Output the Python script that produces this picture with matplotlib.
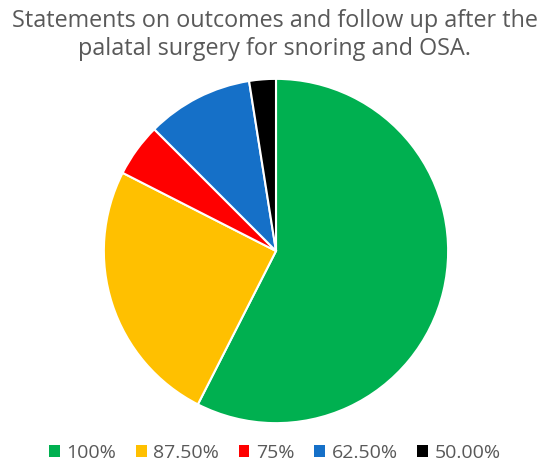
import matplotlib.pyplot as plt
from matplotlib.patches import Patch

# Statements per agreement level
labels = ['100%', '87.50%', '75%', '62.50%', '50.00%']
counts = [23, 10, 2, 4, 1]
colors = ['#00B050', '#FFC000', '#FF0000', '#1570C8', '#000000']

plt.rcParams['font.family'] = ['Open Sans', 'DejaVu Sans']

fig = plt.figure(figsize=(5.5, 4.68), dpi=100)
ax = fig.add_axes([(276 - 173) / 550, 1 - (251 + 173) / 468, 346 / 550, 346 / 468])
ax.pie(counts, colors=colors, startangle=90, counterclock=False,
       wedgeprops=dict(edgecolor='white', linewidth=1.5))
ax.set_xlim(-1.005, 1.005)
ax.set_ylim(-1.005, 1.005)
ax.set_aspect('equal')

fig.text(0.5, 1 - 35 / 468, 'Statements on outcomes and follow up after the\npalatal surgery for snoring and OSA.',
         ha='center', va='center', fontsize=16.8, color='#595959', linespacing=1.2)

handles = [Patch(facecolor=c, edgecolor='none') for c in colors]
fig.legend(handles, labels, loc='center', bbox_to_anchor=(0.5, 1 - 453 / 468), ncol=5,
           frameon=False, fontsize=14, labelcolor='#595959', handlelength=0.55, handleheight=0.55,
           handletextpad=0.35, columnspacing=1.0)

fig.savefig('out.png')
